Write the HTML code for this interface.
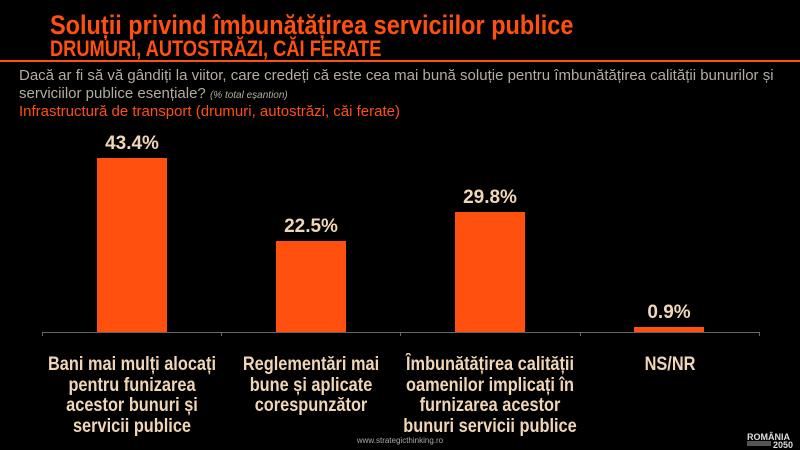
<!DOCTYPE html>
<html><head><meta charset="utf-8"><style>
html,body{margin:0;padding:0;background:#000;}
body{width:800px;height:450px;position:relative;overflow:hidden;font-family:"Liberation Sans",sans-serif;}
.a{position:absolute;white-space:nowrap;}
.t{color:#ff5010;font-weight:bold;left:50px;transform-origin:0 0;}
.q{color:#b3aca2;font-size:15px;left:19px;}
.v{color:#f0d6b6;font-weight:bold;font-size:19px;width:120px;text-align:center;}
.c{color:#f0d6b6;font-weight:bold;font-size:19px;width:260px;text-align:center;top:355px;line-height:20.5px;transform:scaleX(0.86);transform-origin:50% 0;}
.bar{position:absolute;background:#ff5010;width:70px;}
</style></head><body>
<div class="a t" style="top:10px;font-size:27px;transform:scaleX(0.87);">Soluții privind îmbunătățirea serviciilor publice</div>
<div class="a t" style="top:36px;font-size:22px;transform:scaleX(0.83);">DRUMURI, AUTOSTRĂZI, CĂI FERATE</div>
<div class="a" style="left:0;top:60px;width:800px;height:2px;background:#ff5010;"></div>
<div class="a q" style="top:67px;">Dacă ar fi să vă gândiți la viitor, care credeți că este cea mai bună soluție pentru îmbunătățirea calității bunurilor și</div>
<div class="a q" style="top:85px;">serviciilor publice esențiale? <i style="font-size:10px">(% total eșantion)</i></div>
<div class="a q" style="top:103px;color:#ff5010;">Infrastructură de transport (drumuri, autostrăzi, căi ferate)</div>

<div class="bar" style="left:97px;top:158px;height:174px;"></div>
<div class="bar" style="left:276px;top:241px;height:91px;"></div>
<div class="bar" style="left:455px;top:212px;height:120px;"></div>
<div class="bar" style="left:634px;top:327px;height:5px;"></div>
<div class="a v" style="left:72px;top:133px;">43.4%</div>
<div class="a v" style="left:251px;top:216px;">22.5%</div>
<div class="a v" style="left:430px;top:187px;">29.8%</div>
<div class="a v" style="left:609px;top:302px;">0.9%</div>

<div class="a" style="left:42px;top:332px;width:717px;height:1px;background:#666;"></div>
<div class="a" style="left:42px;top:332px;width:1px;height:4px;background:#666;"></div>
<div class="a" style="left:221px;top:332px;width:1px;height:4px;background:#666;"></div>
<div class="a" style="left:400px;top:332px;width:1px;height:4px;background:#666;"></div>
<div class="a" style="left:580px;top:332px;width:1px;height:4px;background:#666;"></div>
<div class="a" style="left:759px;top:332px;width:1px;height:4px;background:#666;"></div>

<div class="a c" style="left:2px;">Bani mai mulți alocați<br>pentru funizarea<br>acestor bunuri și<br>servicii publice</div>
<div class="a c" style="left:181px;">Reglementări mai<br>bune și aplicate<br>corespunzător</div>
<div class="a c" style="left:360px;">Îmbunătățirea calității<br>oamenilor implicați în<br>furnizarea acestor<br>bunuri servicii publice</div>
<div class="a c" style="left:540px;">NS/NR</div>

<div class="a" style="left:340px;top:436px;width:120px;text-align:center;color:#aaa;font-size:8px;">www.strategicthinking.ro</div>
<div class="a" style="left:747px;top:432px;color:#ddd;font-size:9px;font-weight:bold;">ROMÂNIA</div>
<div class="a" style="left:747px;top:441px;width:24px;height:5px;background:#555;"></div>
<div class="a" style="left:773px;top:440px;color:#ddd;font-size:9px;font-weight:bold;">2050</div>
</body></html>
